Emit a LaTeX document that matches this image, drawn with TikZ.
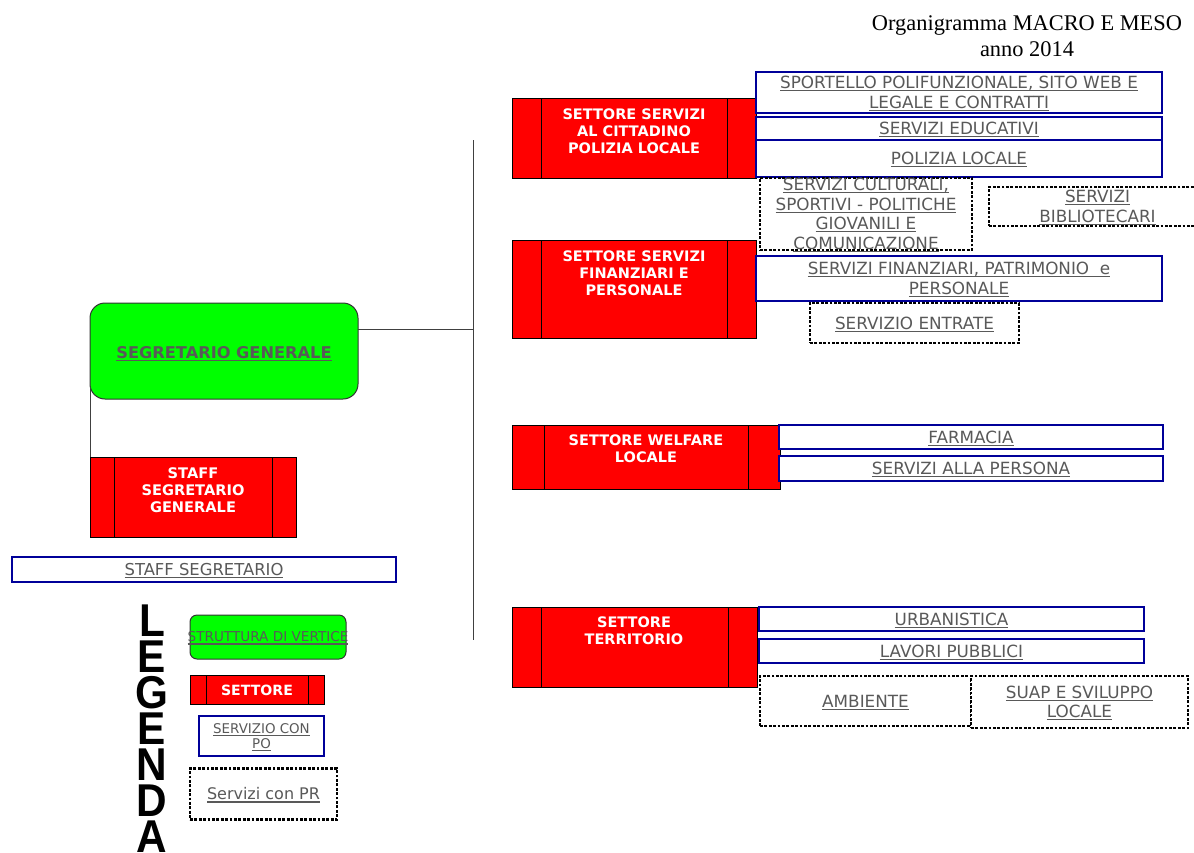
\documentclass[tikz,border=0pt]{standalone}
\usepackage{fontspec}
\usepackage{graphicx}
\setmainfont{DejaVu Sans}
\newfontfamily\titlefont{Liberation Serif}
\newfontfamily\legfont{Liberation Sans}
\definecolor{pogreen}{RGB}{0,255,0}
\definecolor{pored}{RGB}{255,0,0}
\definecolor{poblue}{RGB}{0,0,153}
\definecolor{txtgray}{RGB}{89,89,89}
\newcommand\ulx[1]{\sbox0{#1}\rlap{\smash{\rule[-2.6pt]{\wd0}{1.2pt}}}\usebox0}
\tikzset{
  every node/.style={inner sep=0pt, outer sep=0pt},
  pobox/.style={draw=poblue, line width=2.7pt, fill=white, anchor=north west, align=center,
    text=txtgray, font=\fontsize{16.8}{19.5}\selectfont},
  prbox/.style={draw=black, line width=2.8pt, dash pattern=on 2.8pt off 1.6pt, fill=white,
    anchor=north west, align=center, text=txtgray, font=\fontsize{16.8}{19.5}\selectfont},
  settbox/.style={draw=black, line width=0.8pt, fill=pored, anchor=north west,
    path picture={\draw[line width=0.8pt]
      ([xshift=#1]path picture bounding box.north west) -- ([xshift=#1]path picture bounding box.south west)
      ([xshift=-#1]path picture bounding box.north east) -- ([xshift=-#1]path picture bounding box.south east);}},
  setttext/.style={text=white, align=center, font=\bfseries\fontsize{14.5}{17.2}\selectfont},
  vertbox/.style={draw=black!80, line width=1pt, fill=pogreen, rounded corners=15pt, anchor=north west},
  conn/.style={draw=black!75, line width=1pt},
  legletter/.style={anchor=base, font=\legfont\bfseries\fontsize{46}{46}\selectfont},
}
\begin{document}
\begin{tikzpicture}[x=1pt, y=-1pt]
\useasboundingbox (0,0) rectangle (1194,852);

% title
\node[font=\titlefont\fontsize{22.4}{26}\selectfont, align=center] (title) at (1027,36)
  {Organigramma MACRO E MESO\\anno 2014};

% connectors
\coordinate (busT) at (473,140);
\coordinate (busB) at (473,640);
\coordinate (busJ) at (473,329);
\draw[conn] (busT) -- (busB);

% segretario generale
\node[vertbox, minimum width=268pt, minimum height=96pt] (sg) at (90,303) {};
\node[text=txtgray, font=\bfseries\fontsize{16.2}{19}\selectfont] (sgt) at (224,352.5) {\ulx{SEGRETARIO GENERALE}};
\draw[conn] (sg.east |- busJ) -- (busJ);

% staff
\node[settbox=24pt, minimum width=206pt, minimum height=80pt] (staff) at (90,457) {};
\draw[conn] ([yshift=12pt]sg.south west) -- (staff.north west);
\node[setttext, font=\bfseries\fontsize{14.6}{16.7}\selectfont] (stafft) at (193,490) {STAFF\\SEGRETARIO\\GENERALE};
\node[pobox, minimum width=384pt, minimum height=25pt, font=\fontsize{16.4}{19}\selectfont] (ss) at (12,557) {\ulx{STAFF SEGRETARIO}};

% settori
\node[settbox=29pt, minimum width=244pt, minimum height=80pt] (s1) at (512,98) {};
\node[setttext] (s1t) at (634,131) {SETTORE SERVIZI\\AL CITTADINO\\POLIZIA LOCALE};
\node[settbox=29pt, minimum width=244pt, minimum height=98pt] (s2) at (512,240) {};
\node[setttext] (s2t) at (634,273.5) {SETTORE SERVIZI\\FINANZIARI E\\PERSONALE};
\node[settbox=32pt, minimum width=268pt, minimum height=64pt] (s3) at (512,425) {};
\node[setttext] (s3t) at (646,449) {SETTORE WELFARE\\LOCALE};
\node[settbox=29pt, minimum width=245pt, minimum height=80pt] (s4) at (512,607) {};
\node[setttext] (s4t) at (634,631) {SETTORE\\TERRITORIO};

% servizi con PO
\node[pobox, minimum width=406pt, minimum height=41pt] (p1) at (756,72) {\ulx{SPORTELLO POLIFUNZIONALE, SITO WEB E}\\\ulx{LEGALE E CONTRATTI}};
\node[pobox, minimum width=406pt, minimum height=23pt] (p2) at (756,117) {\ulx{SERVIZI EDUCATIVI}};
\node[pobox, minimum width=406pt, minimum height=37pt] (p3) at (756,140) {\ulx{POLIZIA LOCALE}};
\node[pobox, minimum width=406pt, minimum height=45pt] (p4) at (756,256) {\ulx{SERVIZI FINANZIARI, PATRIMONIO\ \ e}\\\ulx{PERSONALE}};
\node[pobox, minimum width=384pt, minimum height=24pt] (p5) at (779,425) {\ulx{FARMACIA}};
\node[pobox, minimum width=384pt, minimum height=25pt] (p6) at (779,456) {\ulx{SERVIZI ALLA PERSONA}};
\node[pobox, minimum width=385pt, minimum height=24pt] (p7) at (759,607) {\ulx{URBANISTICA}};
\node[pobox, minimum width=385pt, minimum height=24pt] (p8) at (759,639) {\ulx{LAVORI PUBBLICI}};

% servizi con PR
\node[prbox, minimum width=212pt, minimum height=72pt] (r1) at (760,178) {\ulx{SERVIZI CULTURALI,}\\\ulx{SPORTIVI - POLITICHE}\\\ulx{GIOVANILI E}\\\ulx{COMUNICAZIONE}};
\node[prbox, minimum width=217pt, minimum height=39pt] (r2) at (989,187) {\ulx{SERVIZI}\\\ulx{BIBLIOTECARI}};
\node[prbox, minimum width=209pt, minimum height=40pt] (r3) at (810,303) {\ulx{SERVIZIO ENTRATE}};
\node[prbox, minimum width=211pt, minimum height=50pt] (r4) at (760,676) {\ulx{AMBIENTE}};
\node[prbox, minimum width=217pt, minimum height=52pt] (r5) at (971,676) {\ulx{SUAP E SVILUPPO}\\\ulx{LOCALE}};

% legenda
\foreach \l [count=\i] in {L,E,G,E,N,D,A}
  \node[legletter] (leg\i) at (152,{636+36*(\i-1)}) {\scalebox{0.92}[1]{\l}};
\node[vertbox, rounded corners=7pt, minimum width=156pt, minimum height=44pt] (lv) at (190,615) {};
\node[text=txtgray, font=\fontsize{13.6}{15}\selectfont] (lvt) at (268,637) {\ulx{STRUTTURA DI VERTICE}};
\node[settbox=16pt, minimum width=134pt, minimum height=29pt] (ls) at (190,675) {};
\node[setttext, font=\bfseries\fontsize{14.1}{16}\selectfont] (lst) at (257,690) {SETTORE};
\node[pobox, line width=2.3pt, minimum width=125pt, minimum height=40pt, font=\fontsize{13.4}{15}\selectfont] (lp) at (199,716) {\ulx{SERVIZIO CON}\\\ulx{PO}};
\node[prbox, minimum width=147pt, minimum height=51pt, font=\fontsize{16}{19}\selectfont] (lr) at ([yshift=-1.5pt]190,767) {\ulx{Servizi con PR}};
\end{tikzpicture}
\end{document}
